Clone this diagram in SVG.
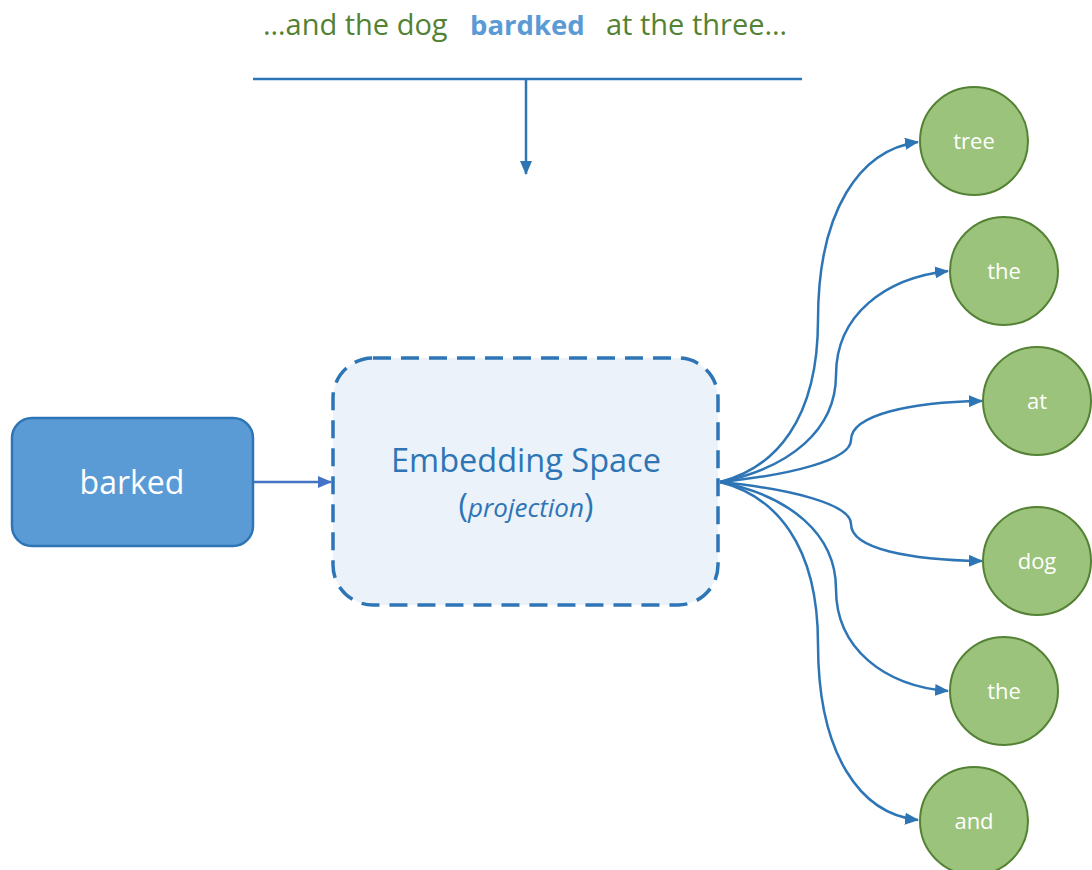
<svg xmlns="http://www.w3.org/2000/svg" width="1092" height="870" viewBox="0 0 1092 870">
  <style>
    .ctx { font-family: "Open Sans", "Noto Sans", "Liberation Sans", sans-serif; font-size: 29px; fill: #548235; }
    .hl { font-weight: bold; font-size: 27.5px; fill: #5B9BD5; }
    .link { fill: none; stroke: #2E75B6; stroke-width: 2.5; marker-end: url(#arrow); }
    .word { fill: #9BC37B; stroke: #548235; stroke-width: 2; }
    .wordtxt { font-family: "Open Sans", "Noto Sans", "Liberation Sans", sans-serif; font-size: 22px; fill: #ffffff; text-anchor: middle; }
  </style>
  <defs>
    <marker id="arrow" markerUnits="userSpaceOnUse" markerWidth="14" markerHeight="12" refX="13" refY="6" orient="auto">
      <path d="M0,0 L14,6 L0,12 Z" fill="#2E75B6"/>
    </marker>
    <marker id="arrowIn" markerUnits="userSpaceOnUse" markerWidth="14" markerHeight="12" refX="13" refY="6" orient="auto">
      <path d="M0,0 L14,6 L0,12 Z" fill="#4472C4"/>
    </marker>
  </defs>

  <rect width="1092" height="870" fill="#ffffff"/>

  <!-- context sentence -->
  <g id="sentence">
    <text class="ctx" y="35"><tspan x="263">…and the dog</tspan><tspan class="hl" x="470">bardked</tspan><tspan x="606">at the three…</tspan></text>
  </g>

  <!-- connectors -->
  <g id="connectors">
    <line x1="253" y1="79" x2="802" y2="79" stroke="#2E75B6" stroke-width="2.5"/>
    <line x1="526" y1="79" x2="526" y2="174" class="link"/>
    <line x1="253" y1="482" x2="331" y2="482" stroke="#4472C4" stroke-width="2.5" marker-end="url(#arrowIn)"/>
    <path class="link" d="M720,482 C775,468 818,420 818,320 C818,210 860,150 918,142"/>
    <path class="link" d="M720,482 C790,468 836,430 836,375 C836,315 885,278 948,271"/>
    <path class="link" d="M720,482 C790,475 851,460 851,440 C851,415 910,402 982,401"/>
    <path class="link" d="M720,482 C790,489 851,504 851,524 C851,549 910,560 982,561"/>
    <path class="link" d="M720,482 C790,496 836,534 836,589 C836,649 885,686 948,691"/>
    <path class="link" d="M720,482 C775,496 818,544 818,644 C818,754 860,814 918,820"/>
  </g>

  <!-- input word -->
  <g id="barked">
    <rect x="12" y="418" width="241" height="128" rx="20" fill="#5B9BD5" stroke="#2E75B6" stroke-width="2.5"/>
    <text x="132" y="494" font-family="Open Sans, Noto Sans, Liberation Sans, sans-serif" font-size="32" fill="#ffffff" text-anchor="middle">barked</text>
  </g>

  <!-- embedding space -->
  <g id="embedding">
    <rect x="333" y="358" width="385" height="247" rx="40" fill="#EBF2FA" stroke="#2E75B6" stroke-width="3.5" stroke-dasharray="18 10"/>
    <text x="526" y="472" font-family="Open Sans, Noto Sans, Liberation Sans, sans-serif" font-size="32.5" fill="#2E75B6" text-anchor="middle">Embedding Space</text>
    <text x="526" y="517" font-family="Open Sans, Noto Sans, Liberation Sans, sans-serif" font-size="26" fill="#2E75B6" text-anchor="middle"><tspan font-size="32">(</tspan><tspan font-style="italic">projection</tspan><tspan font-size="32">)</tspan></text>
  </g>

  <!-- context words -->
  <g id="w-tree"><circle class="word" cx="974" cy="141" r="54"/><text class="wordtxt" x="974" y="149">tree</text></g>
  <g id="w-the1"><circle class="word" cx="1004" cy="271" r="54"/><text class="wordtxt" x="1004" y="279">the</text></g>
  <g id="w-at"><circle class="word" cx="1037" cy="401" r="54"/><text class="wordtxt" x="1037" y="409">at</text></g>
  <g id="w-dog"><circle class="word" cx="1037" cy="561" r="54"/><text class="wordtxt" x="1037" y="569">dog</text></g>
  <g id="w-the2"><circle class="word" cx="1004" cy="691" r="54"/><text class="wordtxt" x="1004" y="699">the</text></g>
  <g id="w-and"><circle class="word" cx="974" cy="821" r="54"/><text class="wordtxt" x="974" y="829">and</text></g>
</svg>
